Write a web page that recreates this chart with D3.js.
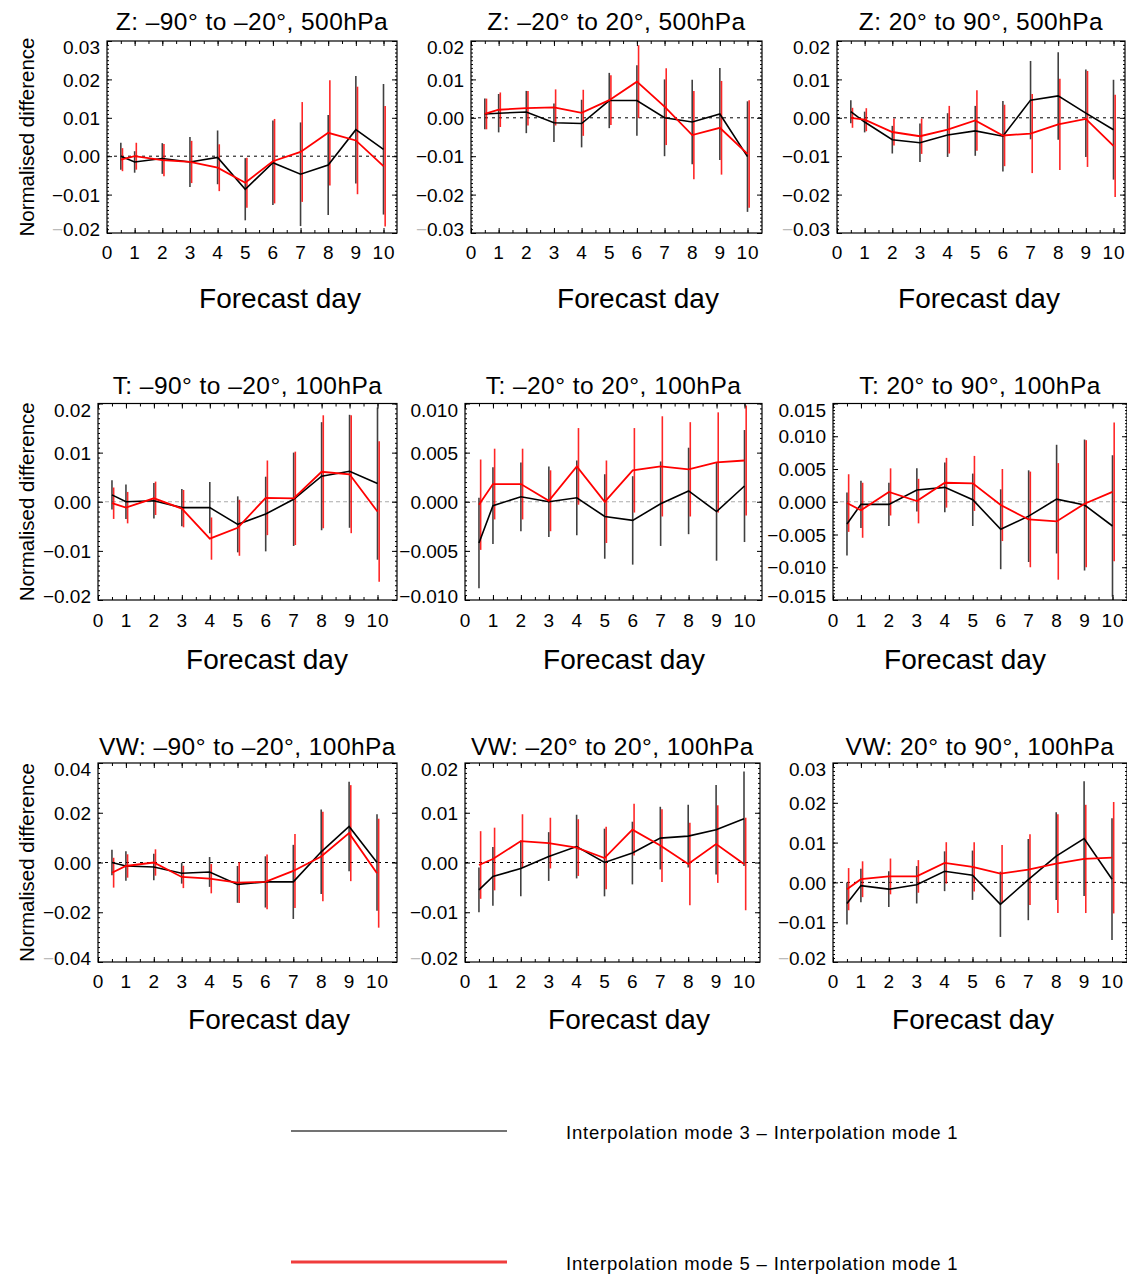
<!DOCTYPE html>
<html>
<head>
<meta charset="utf-8">
<script src="https://cdn.jsdelivr.net/npm/d3@7"></script>
<style>
  body { margin: 0; background: #fff; }
  svg { font-family: "Liberation Sans", Arial, Helvetica, sans-serif; }
</style>
</head>
<body>
<svg id="chart" width="1127" height="1277"></svg>
<script>
// forecast lead times (days)
const days = [0.5, 1, 2, 3, 4, 5, 6, 7, 8, 9, 10];
const xTicks = [0, 1, 2, 3, 4, 5, 6, 7, 8, 9, 10];

// Z 500hPa, -90 to -20
const zSouthMode3    = [0.0000, -0.0015, -0.0006, -0.0015, -0.0003, -0.0086, -0.0017, -0.0047, -0.0023, 0.0069, 0.0018];
const zSouthMode3Err = [0.0035, 0.0028, 0.0040, 0.0065, 0.0070, 0.0081, 0.0110, 0.0135, 0.0130, 0.0140, 0.0170];
const zSouthMode5    = [-0.0009, 0.0000, -0.0010, -0.0015, -0.0030, -0.0069, -0.0013, 0.0011, 0.0061, 0.0041, -0.0026];
const zSouthMode5Err = [0.0030, 0.0035, 0.0042, 0.0055, 0.0061, 0.0065, 0.0110, 0.0130, 0.0137, 0.0140, 0.0157];
// Z 500hPa, -20 to 20
const zTropMode3    = [0.0010, 0.0012, 0.0015, -0.0013, -0.0015, 0.0045, 0.0045, 0.0000, -0.0011, 0.0010, -0.0101];
const zTropMode3Err = [0.0040, 0.0050, 0.0055, 0.0050, 0.0062, 0.0072, 0.0092, 0.0100, 0.0110, 0.0120, 0.0144];
const zTropMode5    = [0.0010, 0.0021, 0.0025, 0.0027, 0.0013, 0.0046, 0.0094, 0.0029, -0.0045, -0.0026, -0.0094];
const zTropMode5Err = [0.0040, 0.0045, 0.0045, 0.0047, 0.0060, 0.0065, 0.0095, 0.0100, 0.0115, 0.0122, 0.0140];
// Z 500hPa, 20 to 90
const zNorthMode3    = [0.0016, -0.0011, -0.0057, -0.0065, -0.0045, -0.0034, -0.0048, 0.0046, 0.0057, 0.0012, -0.0031];
const zNorthMode3Err = [0.0030, 0.0027, 0.0036, 0.0050, 0.0057, 0.0065, 0.0092, 0.0102, 0.0114, 0.0114, 0.0130];
const zNorthMode5    = [0.0000, -0.0005, -0.0037, -0.0048, -0.0031, -0.0007, -0.0046, -0.0041, -0.0017, -0.0003, -0.0073];
const zNorthMode5Err = [0.0026, 0.0030, 0.0035, 0.0046, 0.0062, 0.0079, 0.0080, 0.0103, 0.0119, 0.0125, 0.0133];

// T 100hPa
const tSouthMode3    = [0.0014, 0.0000, 0.0002, -0.0012, -0.0012, -0.0046, -0.0025, 0.0005, 0.0052, 0.0062, 0.0037];
const tSouthMode3Err = [0.0030, 0.0035, 0.0036, 0.0038, 0.0052, 0.0057, 0.0076, 0.0095, 0.0110, 0.0115, 0.0155];
const tSouthMode5    = [-0.0003, -0.0012, 0.0007, -0.0014, -0.0075, -0.0053, 0.0008, 0.0007, 0.0061, 0.0056, -0.0020];
const tSouthMode5Err = [0.0032, 0.0032, 0.0034, 0.0038, 0.0043, 0.0057, 0.0076, 0.0095, 0.0115, 0.0120, 0.0143];

const tTropMode3    = [-0.0042, -0.0004, 0.0005, 0.0000, 0.0004, -0.0015, -0.0019, -0.0002, 0.0011, -0.0010, 0.0016];
const tTropMode3Err = [0.0046, 0.0039, 0.0035, 0.0036, 0.0038, 0.0043, 0.0045, 0.0043, 0.0044, 0.0050, 0.0057];
const tTropMode5    = [-0.0003, 0.0018, 0.0018, 0.0001, 0.0036, 0.0000, 0.0032, 0.0036, 0.0033, 0.0040, 0.0042];
const tTropMode5Err = [0.0046, 0.0036, 0.0036, 0.0031, 0.0039, 0.0042, 0.0043, 0.0051, 0.0048, 0.0051, 0.0056];

const tNorthMode3    = [-0.0034, -0.0004, -0.0004, 0.0018, 0.0022, 0.0003, -0.0042, -0.0022, 0.0004, -0.0005, -0.0037];
const tNorthMode3Err = [0.0048, 0.0036, 0.0033, 0.0033, 0.0038, 0.0040, 0.0061, 0.0070, 0.0083, 0.0100, 0.0108];
const tNorthMode5    = [-0.0002, -0.0013, 0.0015, 0.0001, 0.0029, 0.0028, -0.0005, -0.0027, -0.0030, -0.0003, 0.0015];
const tNorthMode5Err = [0.0044, 0.0042, 0.0036, 0.0034, 0.0038, 0.0042, 0.0055, 0.0073, 0.0089, 0.0097, 0.0106];

// VW 100hPa
const vwSouthMode3    = [0.0000, -0.0014, -0.0018, -0.0043, -0.0038, -0.0088, -0.0078, -0.0078, 0.0043, 0.0145, 0.0000];
const vwSouthMode3Err = [0.0051, 0.0059, 0.0053, 0.0042, 0.0060, 0.0074, 0.0103, 0.0149, 0.0170, 0.0180, 0.0194];
const vwSouthMode5    = [-0.0041, -0.0014, 0.0000, -0.0058, -0.0065, -0.0081, -0.0078, -0.0034, 0.0024, 0.0118, -0.0043];
const vwSouthMode5Err = [0.0060, 0.0047, 0.0053, 0.0045, 0.0059, 0.0082, 0.0110, 0.0149, 0.0180, 0.0193, 0.0219];

const vwTropMode3    = [-0.0055, -0.0028, -0.0012, 0.0012, 0.0032, 0.0000, 0.0019, 0.0049, 0.0053, 0.0066, 0.0088];
const vwTropMode3Err = [0.0045, 0.0059, 0.0056, 0.0049, 0.0064, 0.0068, 0.0063, 0.0063, 0.0063, 0.0090, 0.0095];
const vwTropMode5    = [-0.0005, 0.0007, 0.0043, 0.0039, 0.0030, 0.0009, 0.0066, 0.0034, -0.0003, 0.0037, -0.0003];
const vwTropMode5Err = [0.0068, 0.0063, 0.0054, 0.0051, 0.0057, 0.0063, 0.0052, 0.0073, 0.0083, 0.0078, 0.0093];

const vwNorthMode3    = [-0.0053, -0.0008, -0.0017, -0.0006, 0.0028, 0.0018, -0.0055, 0.0007, 0.0066, 0.0110, 0.0008];
const vwNorthMode3Err = [0.0053, 0.0042, 0.0045, 0.0047, 0.0050, 0.0062, 0.0082, 0.0102, 0.0110, 0.0144, 0.0153];
const vwNorthMode5    = [-0.0017, 0.0008, 0.0015, 0.0015, 0.0049, 0.0039, 0.0022, 0.0032, 0.0047, 0.0059, 0.0062];
const vwNorthMode5Err = [0.0053, 0.0045, 0.0045, 0.0041, 0.0052, 0.0062, 0.0072, 0.0089, 0.0124, 0.0136, 0.0140];

const panelTitles = [
  "Z: –90° to –20°, 500hPa", "Z: –20° to 20°, 500hPa", "Z: 20° to 90°, 500hPa",
  "T: –90° to –20°, 100hPa", "T: –20° to 20°, 100hPa", "T: 20° to 90°, 100hPa",
  "VW: –90° to –20°, 100hPa", "VW: –20° to 20°, 100hPa", "VW: 20° to 90°, 100hPa"
];
const yDomains = [
  [-0.02, 0.03], [-0.03, 0.02], [-0.03, 0.02],
  [-0.02, 0.02], [-0.01, 0.01], [-0.015, 0.015],
  [-0.04, 0.04], [-0.02, 0.02], [-0.02, 0.03]
];
const yTicks = [
  [-0.02, -0.01, 0, 0.01, 0.02, 0.03],
  [-0.03, -0.02, -0.01, 0, 0.01, 0.02],
  [-0.03, -0.02, -0.01, 0, 0.01, 0.02],
  [-0.02, -0.01, 0, 0.01, 0.02],
  [-0.01, -0.005, 0, 0.005, 0.01],
  [-0.015, -0.01, -0.005, 0, 0.005, 0.01, 0.015],
  [-0.04, -0.02, 0, 0.02, 0.04],
  [-0.02, -0.01, 0, 0.01, 0.02],
  [-0.02, -0.01, 0, 0.01, 0.02, 0.03]
];
const yTickFormats = [".2f", ".2f", ".2f", ".2f", ".3f", ".3f", ".2f", ".2f", ".2f"];
const yAxisTitle = "Normalised difference";
const xAxisTitle = "Forecast day";
const seriesNames = ["Interpolation mode 3 – Interpolation mode 1", "Interpolation mode 5 – Interpolation mode 1"];

const mode3 = [zSouthMode3, zTropMode3, zNorthMode3, tSouthMode3, tTropMode3, tNorthMode3, vwSouthMode3, vwTropMode3, vwNorthMode3];
const mode3Err = [zSouthMode3Err, zTropMode3Err, zNorthMode3Err, tSouthMode3Err, tTropMode3Err, tNorthMode3Err, vwSouthMode3Err, vwTropMode3Err, vwNorthMode3Err];
const mode5 = [zSouthMode5, zTropMode5, zNorthMode5, tSouthMode5, tTropMode5, tNorthMode5, vwSouthMode5, vwTropMode5, vwNorthMode5];
const mode5Err = [zSouthMode5Err, zTropMode5Err, zNorthMode5Err, tSouthMode5Err, tTropMode5Err, tNorthMode5Err, vwSouthMode5Err, vwTropMode5Err, vwNorthMode5Err];

// layout (pixels)
const rowBox = [[41, 233], [403.5, 600], [763, 962]];
const colLeft = [[107, 471, 837], [98, 465, 833], [98, 465, 833]];
const colWidth = [[290, 291, 288], [299, 297, 294], [299, 295, 294]];
const pxPerDay = [27.65, 27.95, 27.9];
const titleBase = [30, 394, 755];
const xLabelBase = [259, 627, 988];
const xTitleBase = [308, 669, 1029];
const xTitleOffset = [[173, 167, 142], [169, 159, 132], [171, 164, 140]];
const zeroStyle = [
  { stroke: "#000", dash: "3,4" },
  { stroke: "#aaa", dash: "4,3" },
  { stroke: "#000", dash: "3,4" }
];
const colors = ["#000000", "#ff0000"];

const svg = d3.select("#chart");

for (let p = 0; p < 9; p++) {
  const r = Math.floor(p / 3), c = p % 3;
  const left = colLeft[r][c], w = colWidth[r][c];
  const top = rowBox[r][0], bottom = rowBox[r][1], h = bottom - top;

  const x = d3.scaleLinear().domain([0, w / pxPerDay[r]]).range([0, w]);
  const y = d3.scaleLinear().domain(yDomains[p]).range([h, 0]);

  const g = svg.append("g").attr("transform", `translate(${left},${top})`);

  // zero line
  g.append("line")
    .attr("x1", 0).attr("x2", w)
    .attr("y1", y(0)).attr("y2", y(0))
    .attr("stroke", zeroStyle[r].stroke)
    .attr("stroke-width", 1)
    .attr("stroke-dasharray", zeroStyle[r].dash);

  // error bars then lines, black first, red on top
  const series = [
    { vals: mode3[p], err: mode3Err[p], color: colors[0], shift: 0, op: 0.75 },
    { vals: mode5[p], err: mode5Err[p], color: colors[1], shift: 0.06, op: 0.85 }
  ];
  series.forEach(s => {
    g.append("g").selectAll("line")
      .data(days.map((d, i) => ({ d, v: s.vals[i], e: s.err[i] })))
      .join("line")
      .attr("x1", d => x(d.d + s.shift)).attr("x2", d => x(d.d + s.shift))
      .attr("y1", d => Math.max(0, y(d.v + d.e)))
      .attr("y2", d => Math.min(h, y(d.v - d.e)))
      .attr("stroke", s.color)
      .attr("stroke-opacity", s.op)
      .attr("stroke-width", 1.6);
  });
  series.forEach((s, i) => {
    g.append("path")
      .datum(days.map((d, k) => [d, s.vals[k]]))
      .attr("fill", "none")
      .attr("stroke", s.color)
      .attr("stroke-width", i === 0 ? 1.6 : 1.8)
      .attr("d", d3.line().x(d => x(d[0])).y(d => y(d[1])));
  });

  // ticks
  const [y0, y1] = yDomains[p];
  const majorStep = yTicks[p][1] - yTicks[p][0];
  const yMinor = d3.range(Math.round(y0 / (majorStep / 10)), Math.round(y1 / (majorStep / 10)) + 1)
    .map(k => k * majorStep / 10);
  const xMinor = d3.range(0, 21).map(k => k / 2).filter(v => v <= x.domain()[1]);

  const addAxis = (axis, tx, ty) => {
    const a = g.append("g").attr("transform", `translate(${tx},${ty})`).call(axis);
    a.select(".domain").remove();
    a.selectAll("line").attr("stroke", "#000");
    return a;
  };
  addAxis(d3.axisLeft(y).tickValues(yMinor).tickSize(-2).tickFormat(""), 0, 0);
  addAxis(d3.axisRight(y).tickValues(yMinor).tickSize(-2).tickFormat(""), w, 0);
  addAxis(d3.axisRight(y).tickValues(yTicks[p]).tickSize(-5).tickFormat(""), w, 0);
  addAxis(d3.axisBottom(x).tickValues(xMinor).tickSize(-3).tickFormat(""), 0, h);
  addAxis(d3.axisTop(x).tickValues(xMinor).tickSize(-3).tickFormat(""), 0, 0);
  addAxis(d3.axisTop(x).tickValues(xTicks).tickSize(-5).tickFormat(""), 0, 0);

  const fmt = d3.format(yTickFormats[p]);
  const yAx = addAxis(d3.axisLeft(y).tickValues(yTicks[p]).tickSize(-5).tickPadding(7).tickFormat(fmt), 0, 0);
  yAx.selectAll("text")
    .attr("font-size", 19).attr("fill", "#000").attr("font-family", null)
    .attr("dy", "0.35em")
    .attr("y", function (d) {
      const py = y(d);
      const cy = Math.min(Math.max(py, 6), h - 4);
      return cy - py;
    });
  // lowest label in rows 1 and 3 has a faint minus sign
  if (r !== 1) {
    yAx.selectAll("text").filter(d => d === y0).each(function (d) {
      const t = d3.select(this);
      const s = fmt(d);
      t.text(null);
      t.append("tspan").attr("fill", "#bbb").text(s.slice(0, 1));
      t.append("tspan").text(s.slice(1));
    });
  }

  const xAx = addAxis(d3.axisBottom(x).tickValues(xTicks).tickSize(-5).tickPadding(0).tickFormat(d3.format("d")), 0, h);
  xAx.selectAll("text")
    .attr("font-size", 19).attr("fill", "#000").attr("font-family", null)
    .attr("letter-spacing", 1)
    .attr("dy", null)
    .attr("y", xLabelBase[r] - bottom);

  // frame
  g.append("rect").attr("width", w).attr("height", h)
    .attr("fill", "none").attr("stroke", "#000").attr("stroke-width", 1.2);

  // titles
  svg.append("text")
    .attr("x", left + w / 2).attr("y", titleBase[r])
    .attr("text-anchor", "middle").attr("font-size", 24.5)
    .attr("letter-spacing", 0.45)
    .text(panelTitles[p]);
  svg.append("text")
    .attr("x", left + xTitleOffset[r][c]).attr("y", xTitleBase[r])
    .attr("text-anchor", "middle").attr("font-size", 28)
    .text(xAxisTitle);
  if (c === 0) {
    svg.append("text")
      .attr("transform", `translate(34,${(top + bottom) / 2}) rotate(-90)`)
      .attr("text-anchor", "middle").attr("font-size", 20.5)
      .text(yAxisTitle);
  }
}

// legend
const legendY = [1131, 1262];
const legendStroke = [{ c: "#444", w: 1.5 }, { c: "#f03c3c", w: 3 }];
seriesNames.forEach((name, i) => {
  svg.append("line")
    .attr("x1", 291).attr("x2", 507)
    .attr("y1", legendY[i]).attr("y2", legendY[i])
    .attr("stroke", legendStroke[i].c).attr("stroke-width", legendStroke[i].w);
  svg.append("text")
    .attr("x", 566).attr("y", legendY[i] + 8)
    .attr("font-size", 18.5)
    .attr("letter-spacing", 0.8)
    .text(name);
});
</script>
</body>
</html>
